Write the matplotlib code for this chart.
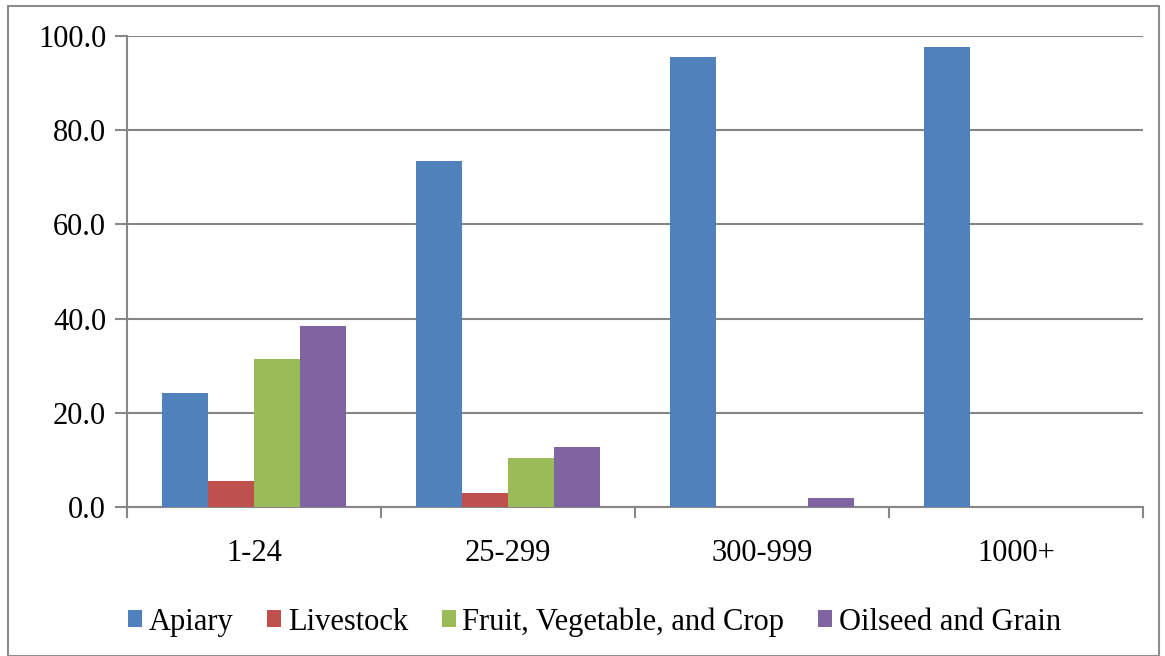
import numpy as np
import matplotlib
matplotlib.use('Agg')
import matplotlib.pyplot as plt
from matplotlib.patches import Rectangle

categories = ['1-24', '25-299', '300-999', '1000+']
series_names = ['Apiary', 'Livestock', 'Fruit, Vegetable, and Crop', 'Oilseed and Grain']
apiary = [24.3, 73.5, 95.5, 97.7]
livestock = [5.5, 3.0, 0.0, 0.0]
fruit_veg_crop = [31.5, 10.4, 0.0, 0.0]
oilseed_grain = [38.5, 12.8, 2.0, 0.0]
colors = ['#4f81bd', '#c0504d', '#9bbb59', '#8064a2']

plt.rcParams['font.family'] = ['Liberation Serif', 'DejaVu Serif']
FS = 22

fig = plt.figure(figsize=(11.65, 6.56), dpi=100)
ax = fig.add_axes([127 / 1165, 1 - 507 / 656, (1143 - 127) / 1165, (507 - 36) / 656])

x = np.arange(len(categories))
width = 0.181
data = [apiary, livestock, fruit_veg_crop, oilseed_grain]
for i, (name, vals) in enumerate(zip(series_names, data)):
    ax.bar(x + (i - 1.5) * width, vals, width, color=colors[i], label=name, zorder=3)

ax.set_xlim(-0.5, len(categories) - 0.5)
ax.set_ylim(0, 100)
ax.set_yticks(np.arange(0, 101, 20))
ax.set_yticklabels([f'{v:.1f}' for v in np.arange(0, 101, 20)], fontsize=FS)
ax.set_xticks(x)
ax.set_xticklabels(categories, fontsize=FS)
ax.set_xticks(np.arange(-0.5, len(categories), 1), minor=True)
ax.tick_params(axis='x', which='major', length=0, pad=23)
ax.tick_params(axis='x', which='minor', length=8, width=1.5, color='#878787')
ax.tick_params(axis='y', length=9, width=1.5, color='#878787', pad=6)

ax.grid(axis='y', color='#858585', linewidth=1.5, zorder=0)
for s in ['top', 'right']:
    ax.spines[s].set_visible(False)
for s in ['left', 'bottom']:
    ax.spines[s].set_color('#878787')
    ax.spines[s].set_linewidth(1.5)

ax.legend(loc='center', bbox_to_anchor=(0.46, -0.244), ncol=4, frameon=False,
          fontsize=FS, handlelength=0.46, handleheight=0.46, handletextpad=0.22,
          columnspacing=1.1)

fig.patches.append(Rectangle((8 / 1165, 0), 1 - 14 / 1165, 1 - 6 / 656,
                             transform=fig.transFigure, fill=False,
                             edgecolor='#8c8c8c', linewidth=1.5))

fig.savefig('out.png', dpi=100)
